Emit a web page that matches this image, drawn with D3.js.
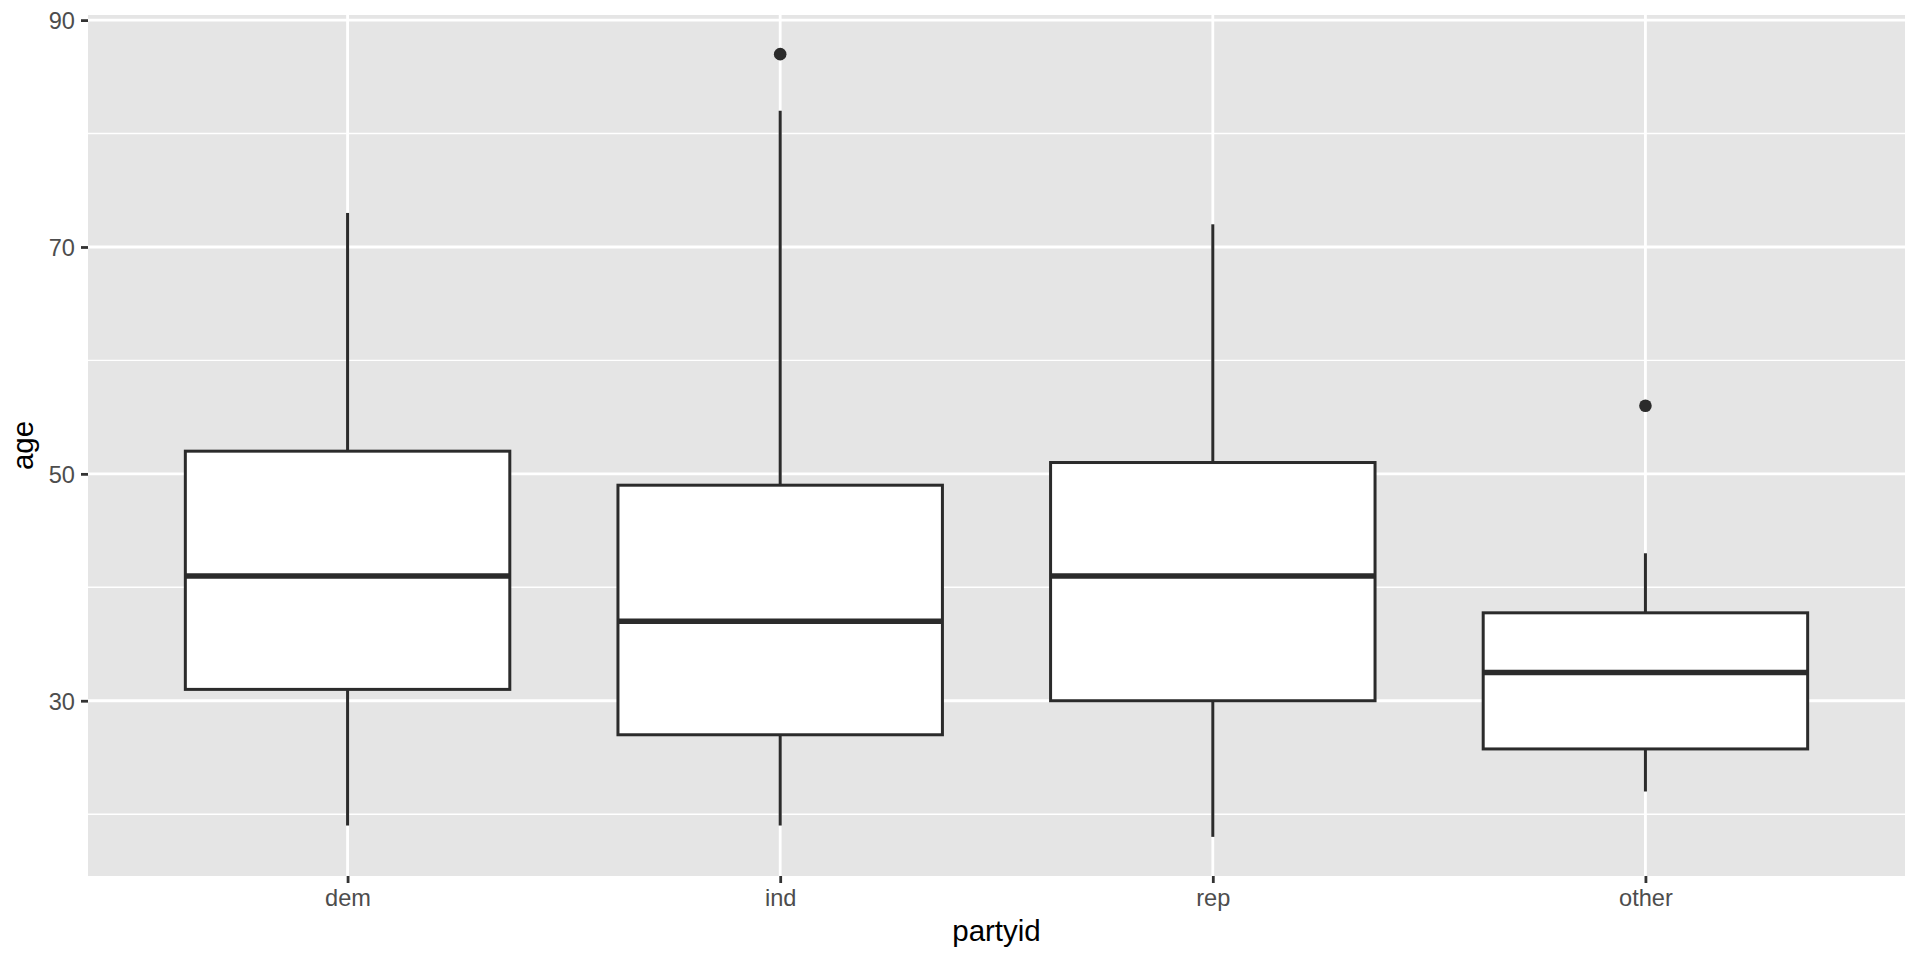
<!DOCTYPE html>
<html>
<head>
<meta charset="utf-8">
<script src="https://cdn.jsdelivr.net/npm/d3@7"></script>
<style>
  body { margin: 0; background: #fff; }
  text { font-family: "Liberation Sans", Arial, sans-serif; }
</style>
</head>
<body>
<div id="chart"></div>
<script>
var width = 1920;
var height = 960;

// box stats
var parties = ["dem", "ind", "rep", "other"];
var lowerWhisker = [19, 19, 18, 22];
var q1 = [31, 27, 30, 25.75];
var median = [41, 37, 41, 32.5];
var q3 = [52, 49, 51, 37.75];
var upperWhisker = [73, 82, 72, 43];
var outliers = [[], [87], [], [56]];

var yTicks = [30, 50, 70, 90];
var yMinor = [20, 40, 60, 80];

var margin = {top: 15, right: 15, bottom: 84, left: 88};

var svg = d3.select("#chart").append("svg")
  .attr("width", width)
  .attr("height", height);

var panelW = width - margin.left - margin.right;
var panelH = height - margin.top - margin.bottom;

// ggplot style: discrete axis padded by 0.6, continuous by 5%
var x = d3.scaleLinear()
  .domain([0.4, parties.length + 0.6])
  .range([margin.left, margin.left + panelW]);

var ymin = d3.min(lowerWhisker), ymax = d3.max([].concat(upperWhisker, d3.merge(outliers)));
var pad = (ymax - ymin) * 0.05;
var y = d3.scaleLinear()
  .domain([ymin - pad, ymax + pad])
  .range([margin.top + panelH, margin.top]);

var boxes = parties.map(function(p, i) {
  return {name: p, pos: i + 1, lo: lowerWhisker[i], q1: q1[i], med: median[i],
    q3: q3[i], hi: upperWhisker[i], out: outliers[i]};
});

// panel background
svg.append("rect")
  .attr("x", margin.left).attr("y", margin.top)
  .attr("width", panelW).attr("height", panelH)
  .attr("fill", "#E5E5E5");

// grid
svg.selectAll(".minor")
  .data(yMinor)
  .enter().append("line")
    .attr("x1", margin.left).attr("x2", margin.left + panelW)
    .attr("y1", function(d) { return y(d); })
    .attr("y2", function(d) { return y(d); })
    .attr("stroke", "#fff").attr("stroke-width", 1.4);

svg.selectAll(".major")
  .data(yTicks)
  .enter().append("line")
    .attr("x1", margin.left).attr("x2", margin.left + panelW)
    .attr("y1", function(d) { return y(d); })
    .attr("y2", function(d) { return y(d); })
    .attr("stroke", "#fff").attr("stroke-width", 2.8);

svg.selectAll(".vgrid")
  .data(boxes)
  .enter().append("line")
    .attr("x1", function(d) { return x(d.pos); })
    .attr("x2", function(d) { return x(d.pos); })
    .attr("y1", margin.top).attr("y2", margin.top + panelH)
    .attr("stroke", "#fff").attr("stroke-width", 2.8);

// boxplots
var bw = 0.75;
var g = svg.selectAll(".box")
  .data(boxes)
  .enter().append("g")
    .attr("class", "box");

g.append("line")
  .attr("x1", function(d) { return x(d.pos); })
  .attr("x2", function(d) { return x(d.pos); })
  .attr("y1", function(d) { return y(d.q3); })
  .attr("y2", function(d) { return y(d.hi); })
  .attr("stroke", "#2B2B2B").attr("stroke-width", 3);

g.append("line")
  .attr("x1", function(d) { return x(d.pos); })
  .attr("x2", function(d) { return x(d.pos); })
  .attr("y1", function(d) { return y(d.q1); })
  .attr("y2", function(d) { return y(d.lo); })
  .attr("stroke", "#2B2B2B").attr("stroke-width", 3);

g.append("rect")
  .attr("x", function(d) { return x(d.pos - bw / 2); })
  .attr("width", function(d) { return x(d.pos + bw / 2) - x(d.pos - bw / 2); })
  .attr("y", function(d) { return y(d.q3); })
  .attr("height", function(d) { return y(d.q1) - y(d.q3); })
  .attr("fill", "#fff")
  .attr("stroke", "#2B2B2B").attr("stroke-width", 3);

g.append("line")
  .attr("x1", function(d) { return x(d.pos - bw / 2); })
  .attr("x2", function(d) { return x(d.pos + bw / 2); })
  .attr("y1", function(d) { return y(d.med); })
  .attr("y2", function(d) { return y(d.med); })
  .attr("stroke", "#2B2B2B").attr("stroke-width", 5.5);

g.selectAll(".outlier")
  .data(function(d) { return d.out.map(function(v) { return {pos: d.pos, v: v}; }); })
  .enter().append("circle")
    .attr("cx", function(d) { return x(d.pos); })
    .attr("cy", function(d) { return y(d.v); })
    .attr("r", 6.3)
    .attr("fill", "#2B2B2B");

// axes
var yAxis = svg.append("g")
  .attr("transform", "translate(" + margin.left + ",0)")
  .call(d3.axisLeft(y).tickValues(yTicks).tickSize(7).tickPadding(6));
yAxis.select(".domain").remove();
yAxis.selectAll(".tick line").attr("stroke", "#333333").attr("stroke-width", 2.8);
yAxis.selectAll(".tick text")
  .attr("fill", "#4D4D4D")
  .style("font-size", "23.6px")
  .attr("dy", "0.36em");

var xAxis = svg.append("g")
  .attr("transform", "translate(0," + (margin.top + panelH) + ")")
  .call(d3.axisBottom(x).tickValues(boxes.map(function(d) { return d.pos; }))
    .tickFormat(function(d) { return parties[d - 1]; })
    .tickSize(7).tickPadding(6));
xAxis.select(".domain").remove();
xAxis.selectAll(".tick line").attr("stroke", "#333333").attr("stroke-width", 2.8);
xAxis.selectAll(".tick text")
  .attr("fill", "#4D4D4D")
  .style("font-size", "23.6px");

// titles
svg.append("text")
  .attr("x", margin.left + panelW / 2)
  .attr("y", 941)
  .attr("text-anchor", "middle")
  .style("font-size", "29.5px")
  .attr("fill", "#000")
  .text("partyid");

svg.append("text")
  .attr("transform", "translate(33," + (margin.top + panelH / 2) + ") rotate(-90)")
  .attr("text-anchor", "middle")
  .style("font-size", "29.5px")
  .attr("fill", "#000")
  .text("age");
</script>
</body>
</html>
